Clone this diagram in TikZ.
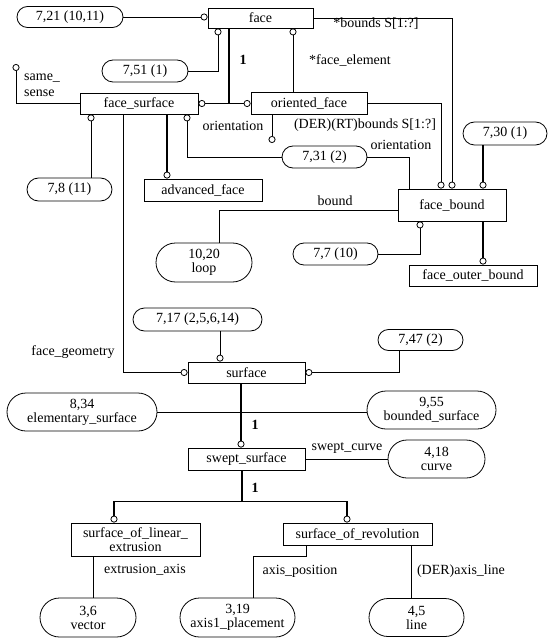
\documentclass[tikz,border=0pt]{standalone}
\usepackage{fontspec}
\setmainfont{Liberation Serif}
\usetikzlibrary{shapes.misc,arrows.meta,calc}
\begin{document}
\begin{tikzpicture}[x=1pt,y=-1pt,
  every node/.style={font=\fontsize{14}{14}\selectfont, inner sep=0pt},
  ent/.style={draw, rectangle, line width=0.8pt, align=center},
  ovl/.style={draw, rounded rectangle, line width=0.8pt, align=center},
  cn/.style={line width=0.8pt},
  tk/.style={line width=1.8pt},
  ce/.style={-{Circle[open,length=7pt,width=7pt,line width=0.8pt]}},
  cs/.style={{Circle[open,length=7pt,width=7pt,line width=0.8pt]}-},
  cb/.style={{Circle[open,length=7pt,width=7pt,line width=0.8pt]}-{Circle[open,length=7pt,width=7pt,line width=0.8pt]}},
  one/.style={font=\fontsize{14}{14}\selectfont\bfseries}
]
\useasboundingbox (0,0) rectangle (554,644);

% nodes
\node[ent, minimum width=105, minimum height=20] (face) at (260.5,18) {face};
\node[ovl, minimum width=106, minimum height=21] (r721) at (70,17) {7,21 (10,11)};
\node[ovl, minimum width=86, minimum height=22] (r751) at (145,71) {7,51 (1)};
\node[ent, minimum width=118, minimum height=21] (fsurf) at (139,103.5) {face\_surface};
\node[ent, minimum width=116, minimum height=22] (oface) at (309,103.5) {oriented\_face};
\node[ovl, minimum width=85, minimum height=23] (r78) at (69.5,189.5) {7,8 (11)};
\node[ent, minimum width=118, minimum height=22] (advf) at (203,190) {advanced\_face};
\node[ovl, minimum width=85, minimum height=22] (r731) at (324.5,157) {7,31 (2)};
\node[ovl, minimum width=84, minimum height=23] (r730) at (505,133.5) {7,30 (1)};
\node[ent, minimum width=108, minimum height=32] (fbound) at (452,205) {face\_bound};
\node[ovl, minimum width=85, minimum height=22] (r77) at (335.5,254) {7,7 (10)};
\node[ent, minimum width=128, minimum height=21] (fob) at (473,275.5) {face\_outer\_bound};
\node[ovl, minimum width=96, minimum height=39] (loop) at (204,262.5) {10,20\\loop};
\node[ovl, minimum width=129, minimum height=23] (r717) at (197.5,319.5) {7,17 (2,5,6,14)};
\node[ent, minimum width=117, minimum height=21] (surf) at (246.5,372.5) {surface};
\node[ovl, minimum width=85, minimum height=21] (r747) at (420.5,340) {7,47 (2)};
\node[ovl, minimum width=150, minimum height=38] (elem) at (82,412) {8,34\\elementary\_surface};
\node[ovl, minimum width=129, minimum height=38] (bnd) at (431.5,410) {9,55\\bounded\_surface};
\node[ent, minimum width=117, minimum height=22] (swept) at (246.5,459) {swept\_surface};
\node[ovl, minimum width=97, minimum height=38] (curve) at (436.5,459) {4,18\\curve};
\node[ent, minimum width=129, minimum height=33] (sole) at (135.5,539.5) {surface\_of\_linear\_\\extrusion};
\node[ent, minimum width=149, minimum height=22] (sor) at (357.5,534) {surface\_of\_revolution};
\node[ovl, minimum width=96, minimum height=39] (vector) at (88,617.5) {3,6\\vector};
\node[ovl, minimum width=115, minimum height=39] (axis1) at (237.5,617.5) {3,19\\axis1\_placement};
\node[ovl, minimum width=95, minimum height=38] (line) at (416.5,617.5) {4,5\\line};

\coordinate (fj) at (229,103.5);
\coordinate (oend) at (272,143);
\coordinate (ssend) at (16,64);
\coordinate (tj) at (242,501.5);

% face region
\draw[cn,ce] (r721.east) -- (r721.east -| face.west);
\draw[cn,cs] ([xshift=-42.5]face.south) |- (r751.east);
\draw[tk] (fj |- face.south) -- (fj);
\draw[tk,cb] (fsurf.east) -- (oface.west);
\node[one] (one1) at (243,60) {1};
\draw[cn,cs] ([xshift=32.5]face.south) -- ([xshift=-16]oface.north);
\node (lfe) at (350,60) {*face\_element};
\draw[cn,ce] (face.east) -| (fbound.north);
\node (lbs) at (376,24) {*bounds S[1:?]};
\draw[cn,ce] (oface.east) -| ([xshift=-11]fbound.north);
\node (lder) at (365,125) {(DER)(RT)bounds S[1:?]};
\draw[cn,cs] ([xshift=48]fsurf.south) |- (r731.west);
\draw[cn,ce] (oface.south -| oend) -- (oend);
\node (lor1) at (233,126) {orientation};
\draw[cn] (r731.east) -| ([xshift=-43]fbound.north);
\node (lor2) at (401,145) {orientation};
\draw[tk,ce] ([xshift=-22]r730.south) -- ([xshift=31]fbound.north);
\draw[tk,ce] ([xshift=31]fbound.south) -- ([xshift=10]fob.north);
\draw[cn,ce] (r77.east) -| ([xshift=-32]fbound.south);
\draw[cn] ($(fbound.west)+(0,5.5)$) -| ([xshift=15]loop.north);
\node (lbd) at (335,201) {bound};
\draw[cn,cs] ([xshift=-48]fsurf.south) -- ([xshift=21.5]r78.north);
\draw[cn,ce] ([xshift=-16]fsurf.south) |- (surf.west);
\node (lfg) at (73,352) {face\_geometry};
\draw[tk,ce] ([xshift=28]fsurf.south) -- ([xshift=-36]advf.north);
\draw[cn,ce] (fsurf.west) -| (ssend);
\node[align=left, anchor=west, font=\fontsize{14}{16}\selectfont] (lss) at (24,85) {same\_\\sense};

% surface region
\draw[cn,ce] ([xshift=22.5]r717.south) -- ([xshift=-26.5]surf.north);
\draw[cn,cs] (surf.east) -| ([xshift=-21.5]r747.south);
\draw[cn] (elem.east) -- (elem.east -| bnd.west);
\draw[tk,ce] ([xshift=-5.5]surf.south) -- ([xshift=-5.5]swept.north);
\node[one] (one2) at (255,425) {1};
\draw[cn] (swept.east) -- (curve.west);
\node (lsc) at (347,448) {swept\_curve};
\draw[tk] (tj |- swept.south) -- (tj);
\draw[tk,ce] (tj) -| ([xshift=-21.5]sole.north);
\draw[tk,ce] (tj) -| ([xshift=-10.5]sor.north);
\node[one] (one3) at (255,488) {1};
\draw[cn] ([xshift=-42.5]sole.south) -- ([xshift=5]vector.north);
\node (lea) at (145,570) {extrusion\_axis};
\draw[cn] ([xshift=-51.5]sor.south) -- ++(0,11) -| ([xshift=15.5]axis1.north);
\node (lap) at (300,571) {axis\_position};
\draw[cn] ([xshift=53.5]sor.south) -- ([xshift=-5.5]line.north);
\node (lal) at (461,571) {(DER)axis\_line};
\end{tikzpicture}
\end{document}
